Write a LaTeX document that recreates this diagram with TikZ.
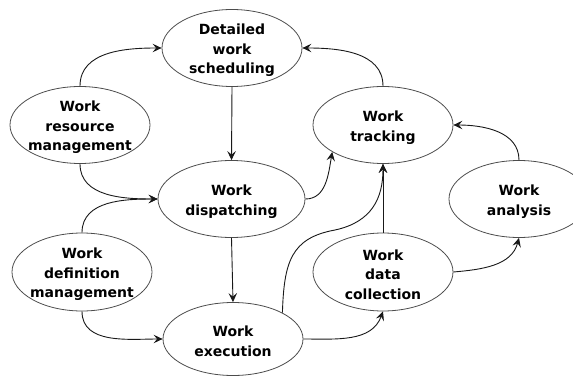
\documentclass[tikz,border=0pt]{standalone}
\usepackage{fontspec}
\setmainfont{DejaVu Sans}
\usetikzlibrary{shapes.geometric,arrows.meta}
\begin{document}
\begin{tikzpicture}[x=1pt,y=-1pt,
  ltext/.style={align=center,inner sep=0pt,yshift=-2.5pt,
    font=\fontsize{14}{19.5}\selectfont\bfseries},
  elly/.style={ellipse,draw=black!70,line width=0.8pt,inner sep=0pt,
    minimum width=140pt,minimum height=77pt,
    label={[ltext]center:#1}},
  conn/.style={draw=black!90,line width=0.9pt,
    -{Stealth[length=9pt,width=8.5pt,inset=3.5pt]}}]
\useasboundingbox (0,0) rectangle (573,377);
\begin{scope}
\clip (0,0) rectangle (573,377);
\node[elly={Detailed\\work\\scheduling}] (sched) at (232,48) {};
\node[elly={Work\\resource\\management}] (res) at (80,125) {};
\node[elly={Work\\dispatching},minimum width=147pt] (disp) at (231.5,199) {};
\node[elly={Work\\definition\\management},minimum height=78pt] (defn) at (82,272) {};
\node[elly={Work\\execution},minimum height=73pt] (exec) at (233,339) {};
\node[elly={Work\\tracking}] (track) at (383,125) {};
\node[elly={Work\\analysis}] (anal) at (519,199) {};
\node[elly={Work\\data\\collection},minimum height=78pt] (dc) at (383,272) {};
\end{scope}
\draw[conn] (res.north) to[out=90,in=180] (sched.west);
\draw[conn] (res.south) to[out=-90,in=180] (disp.west);
\draw[conn] (defn.north) to[out=90,in=180] (disp.west);
\draw[conn] (defn.south) to[out=-90,in=180] (exec.west);
\draw[conn] (sched.south) -- (disp.north);
\draw[conn] (disp.south) -- (exec.north);
\draw[conn] (track.north) to[out=90,in=0] (sched.east);
\draw[conn] (disp.east) to[out=0,in=-100] (track.208);
\draw[conn] (exec.28) .. controls (284,262) and (291,238) .. (335,230)
  .. controls (372,222) and (383,198) .. (track.south);
\draw[conn] (dc.north) -- (track.south);
\draw[conn] (exec.east) to[out=0,in=-110] (dc.south);
\draw[conn] (dc.east) to[out=5,in=-105] (anal.south);
\draw[conn] (anal.north) to[out=90,in=0] (track.east);
\end{tikzpicture}
\end{document}
